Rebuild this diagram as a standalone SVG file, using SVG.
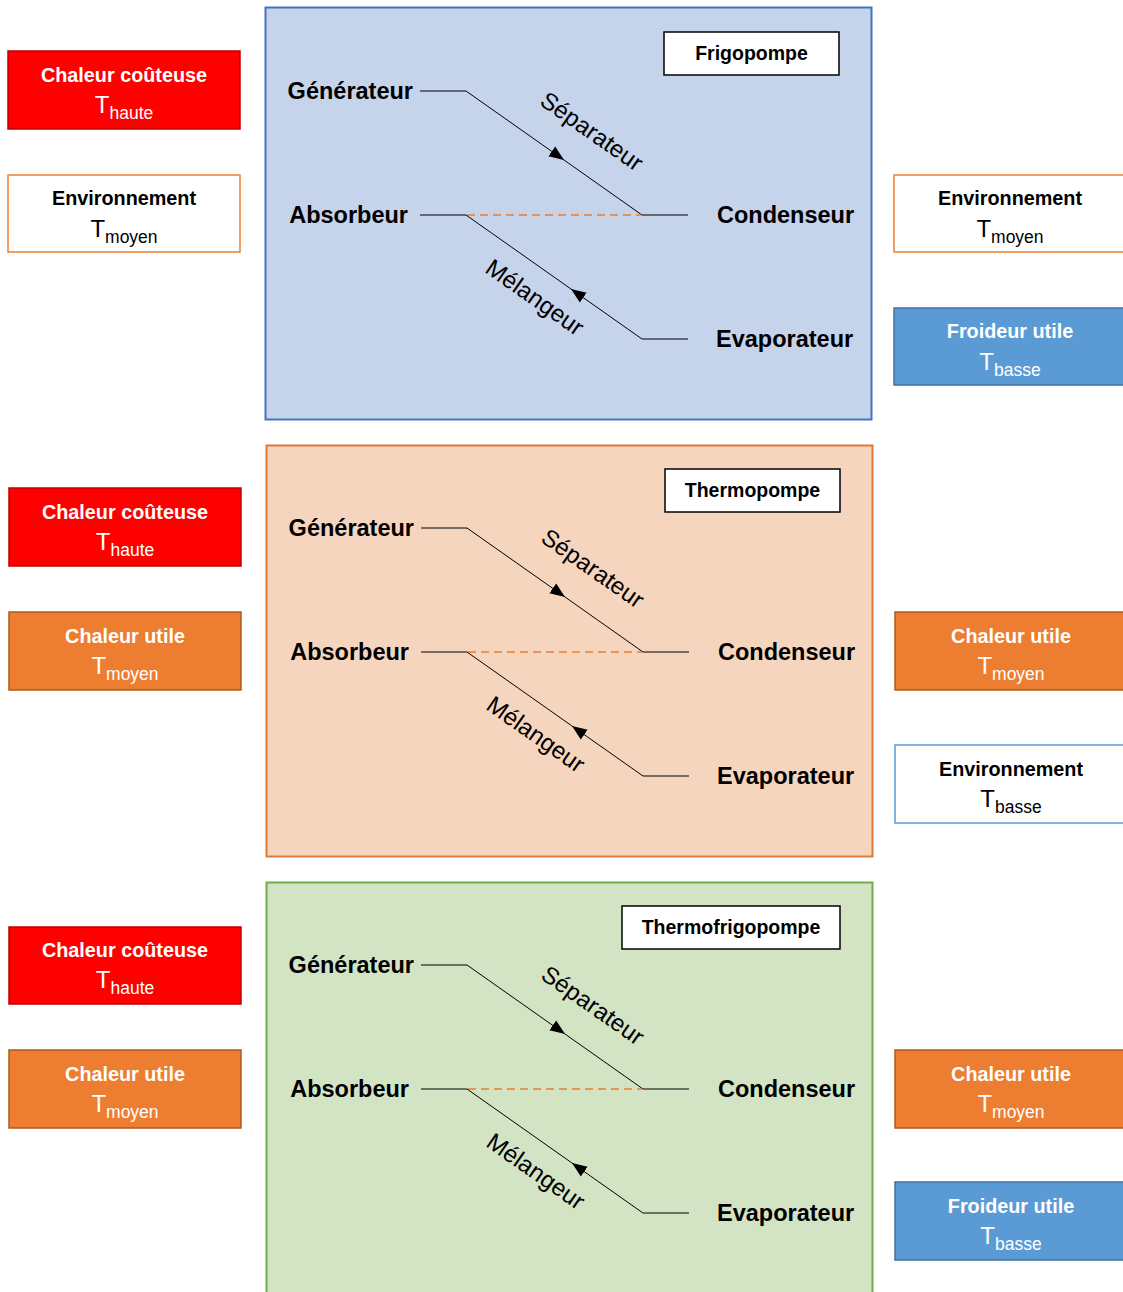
<svg xmlns="http://www.w3.org/2000/svg" width="1123" height="1292" viewBox="0 0 1123 1292">
<style>
  .lbl{font-family:"Liberation Sans",Arial,sans-serif;font-weight:bold;font-size:23.5px;fill:#000}
  .rot{font-family:"Liberation Sans",Arial,sans-serif;font-size:24px;fill:#000}
  .ttl{font-family:"Liberation Sans",Arial,sans-serif;font-weight:bold;font-size:19.5px;fill:#000;text-anchor:middle}
  .bt{font-family:"Liberation Sans",Arial,sans-serif;font-weight:bold;font-size:19.8px;text-anchor:middle}
  .tt{font-family:"Liberation Sans",Arial,sans-serif;font-size:24px;text-anchor:middle}
  .sub{font-size:17.5px}
  .w{fill:#fff}
  .k{fill:#000}
  .ln{stroke:#000;stroke-width:1;fill:none}
  .dash{stroke:#ED7D31;stroke-width:1.7;stroke-dasharray:8,5;fill:none}
  .red{fill:#FF0000;stroke:#C00000;stroke-width:1.5}
  .org{fill:#ED7D31;stroke:#AE5A21;stroke-width:1.5}
  .blu{fill:#5B9BD5;stroke:#41719C;stroke-width:1.5}
  .envo{fill:#fff;stroke:#ED7D31;stroke-width:1.5}
  .envb{fill:#fff;stroke:#5B9BD5;stroke-width:1.5}
  .tbox{fill:#fff;stroke:#000;stroke-width:1.5}
</style>
<defs>
  <marker id="ah2" viewBox="0 0 10 10" refX="10" refY="5" markerWidth="15" markerHeight="15" markerUnits="userSpaceOnUse" orient="auto">
    <path d="M0,1 L10,5 L0,9 z" fill="#000"/>
  </marker>
</defs>

<!-- Panels -->
<g id="panel-frigopompe"><rect x="265.5" y="7.5" width="606" height="412" fill="#C5D3EB" stroke="#4472C4" stroke-width="2"/></g>
<g id="panel-thermopompe"><rect x="266.5" y="445.5" width="606" height="411" fill="#F6D5BE" stroke="#E0783A" stroke-width="2"/></g>
<g id="panel-thermofrigopompe"><rect x="266.5" y="882.5" width="606" height="412" fill="#D3E4C5" stroke="#70AD47" stroke-width="2"/></g>

<!-- Panel 1 contents -->
<g id="p1">
  <g id="p1-title"><rect class="tbox" x="664" y="32" width="175" height="43"/><text class="ttl" x="751.5" y="60">Frigopompe</text></g>
  <g id="p1-gen"><text class="lbl" x="413" y="99" text-anchor="end">Générateur</text></g>
  <g id="p1-abs"><text class="lbl" x="408" y="223" text-anchor="end">Absorbeur</text></g>
  <g id="p1-cond"><text class="lbl" x="717" y="223">Condenseur</text></g>
  <g id="p1-evap"><text class="lbl" x="716" y="347">Evaporateur</text></g>
  <g id="p1-sep"><text class="rot" x="592" y="131" text-anchor="middle" dominant-baseline="central" transform="rotate(35 592 131)">Séparateur</text></g>
  <g id="p1-mel"><text class="rot" x="535" y="297" text-anchor="middle" dominant-baseline="central" transform="rotate(35 535 297)">Mélangeur</text></g>
  <g id="p1-connectors">
    <line class="ln" x1="420" y1="91" x2="466" y2="91"/>
    <line class="ln" x1="466" y1="91" x2="564" y2="160" marker-end="url(#ah2)"/>
    <polyline class="ln" points="564,160 642,215 688,215"/>
    <line class="ln" x1="420" y1="215" x2="466" y2="215"/>
    <line class="dash" x1="467" y1="215" x2="641" y2="215"/>
    <line class="ln" x1="688" y1="339" x2="642" y2="339"/>
    <line class="ln" x1="642" y1="339" x2="571" y2="289" marker-end="url(#ah2)"/>
    <line class="ln" x1="571" y1="289" x2="466" y2="215"/>
  </g>
</g>

<!-- Panel 2 contents -->
<g id="p2" transform="translate(1,437)">
  <g id="p2-title"><rect class="tbox" x="664" y="32" width="175" height="43"/><text class="ttl" x="751.5" y="60">Thermopompe</text></g>
  <g id="p2-gen"><text class="lbl" x="413" y="99" text-anchor="end">Générateur</text></g>
  <g id="p2-abs"><text class="lbl" x="408" y="223" text-anchor="end">Absorbeur</text></g>
  <g id="p2-cond"><text class="lbl" x="717" y="223">Condenseur</text></g>
  <g id="p2-evap"><text class="lbl" x="716" y="347">Evaporateur</text></g>
  <g id="p2-sep"><text class="rot" x="592" y="131" text-anchor="middle" dominant-baseline="central" transform="rotate(35 592 131)">Séparateur</text></g>
  <g id="p2-mel"><text class="rot" x="535" y="297" text-anchor="middle" dominant-baseline="central" transform="rotate(35 535 297)">Mélangeur</text></g>
  <g id="p2-connectors">
    <line class="ln" x1="420" y1="91" x2="466" y2="91"/>
    <line class="ln" x1="466" y1="91" x2="564" y2="160" marker-end="url(#ah2)"/>
    <polyline class="ln" points="564,160 642,215 688,215"/>
    <line class="ln" x1="420" y1="215" x2="466" y2="215"/>
    <line class="dash" x1="467" y1="215" x2="641" y2="215"/>
    <line class="ln" x1="688" y1="339" x2="642" y2="339"/>
    <line class="ln" x1="642" y1="339" x2="571" y2="289" stroke-width="2" marker-end="url(#ah2)"/>
    <line class="ln" x1="571" y1="289" x2="466" y2="215"/>
  </g>
</g>

<!-- Panel 3 contents -->
<g id="p3" transform="translate(1,874)">
  <g id="p3-title"><rect class="tbox" x="621" y="32" width="218" height="43"/><text class="ttl" x="730" y="60">Thermofrigopompe</text></g>
  <g id="p3-gen"><text class="lbl" x="413" y="99" text-anchor="end">Générateur</text></g>
  <g id="p3-abs"><text class="lbl" x="408" y="223" text-anchor="end">Absorbeur</text></g>
  <g id="p3-cond"><text class="lbl" x="717" y="223">Condenseur</text></g>
  <g id="p3-evap"><text class="lbl" x="716" y="347">Evaporateur</text></g>
  <g id="p3-sep"><text class="rot" x="592" y="131" text-anchor="middle" dominant-baseline="central" transform="rotate(35 592 131)">Séparateur</text></g>
  <g id="p3-mel"><text class="rot" x="535" y="297" text-anchor="middle" dominant-baseline="central" transform="rotate(35 535 297)">Mélangeur</text></g>
  <g id="p3-connectors">
    <line class="ln" x1="420" y1="91" x2="466" y2="91"/>
    <line class="ln" x1="466" y1="91" x2="564" y2="160" marker-end="url(#ah2)"/>
    <polyline class="ln" points="564,160 642,215 688,215"/>
    <line class="ln" x1="420" y1="215" x2="466" y2="215"/>
    <line class="dash" x1="467" y1="215" x2="641" y2="215"/>
    <line class="ln" x1="688" y1="339" x2="642" y2="339"/>
    <line class="ln" x1="642" y1="339" x2="571" y2="289" marker-end="url(#ah2)"/>
    <line class="ln" x1="571" y1="289" x2="466" y2="215"/>
  </g>
</g>

<!-- Side boxes: panel 1 -->
<g id="l1-chaleur-couteuse"><rect class="red" x="8" y="51" width="232" height="78"/><text class="bt w" x="124" y="82">Chaleur coûteuse</text><text class="tt w" x="124" y="113">T<tspan class="sub" dy="6">haute</tspan></text></g>
<g id="l1-environnement"><rect class="envo" x="8" y="175" width="232" height="77"/><text class="bt k" x="124" y="205">Environnement</text><text class="tt k" x="124" y="237">T<tspan class="sub" dy="6">moyen</tspan></text></g>
<g id="r1-environnement"><rect class="envo" x="894" y="175" width="240" height="77"/><text class="bt k" x="1010" y="205">Environnement</text><text class="tt k" x="1010" y="237">T<tspan class="sub" dy="6">moyen</tspan></text></g>
<g id="r1-froideur"><rect class="blu" x="894" y="308" width="240" height="77"/><text class="bt w" x="1010" y="338">Froideur utile</text><text class="tt w" x="1010" y="370">T<tspan class="sub" dy="6">basse</tspan></text></g>

<!-- Side boxes: panel 2 -->
<g id="l2-chaleur-couteuse"><rect class="red" x="9" y="488" width="232" height="78"/><text class="bt w" x="125" y="519">Chaleur coûteuse</text><text class="tt w" x="125" y="550">T<tspan class="sub" dy="6">haute</tspan></text></g>
<g id="l2-chaleur-utile"><rect class="org" x="9" y="612" width="232" height="78"/><text class="bt w" x="125" y="643">Chaleur utile</text><text class="tt w" x="125" y="674">T<tspan class="sub" dy="6">moyen</tspan></text></g>
<g id="r2-chaleur-utile"><rect class="org" x="895" y="612" width="240" height="78"/><text class="bt w" x="1011" y="643">Chaleur utile</text><text class="tt w" x="1011" y="674">T<tspan class="sub" dy="6">moyen</tspan></text></g>
<g id="r2-environnement"><rect class="envb" x="895" y="745" width="240" height="78"/><text class="bt k" x="1011" y="776">Environnement</text><text class="tt k" x="1011" y="807">T<tspan class="sub" dy="6">basse</tspan></text></g>

<!-- Side boxes: panel 3 -->
<g id="l3-chaleur-couteuse"><rect class="red" x="9" y="927" width="232" height="77"/><text class="bt w" x="125" y="957">Chaleur coûteuse</text><text class="tt w" x="125" y="988">T<tspan class="sub" dy="6">haute</tspan></text></g>
<g id="l3-chaleur-utile"><rect class="org" x="9" y="1050" width="232" height="78"/><text class="bt w" x="125" y="1081">Chaleur utile</text><text class="tt w" x="125" y="1112">T<tspan class="sub" dy="6">moyen</tspan></text></g>
<g id="r3-chaleur-utile"><rect class="org" x="895" y="1050" width="240" height="78"/><text class="bt w" x="1011" y="1081">Chaleur utile</text><text class="tt w" x="1011" y="1112">T<tspan class="sub" dy="6">moyen</tspan></text></g>
<g id="r3-froideur"><rect class="blu" x="895" y="1182" width="240" height="78"/><text class="bt w" x="1011" y="1213">Froideur utile</text><text class="tt w" x="1011" y="1244">T<tspan class="sub" dy="6">basse</tspan></text></g>
</svg>
